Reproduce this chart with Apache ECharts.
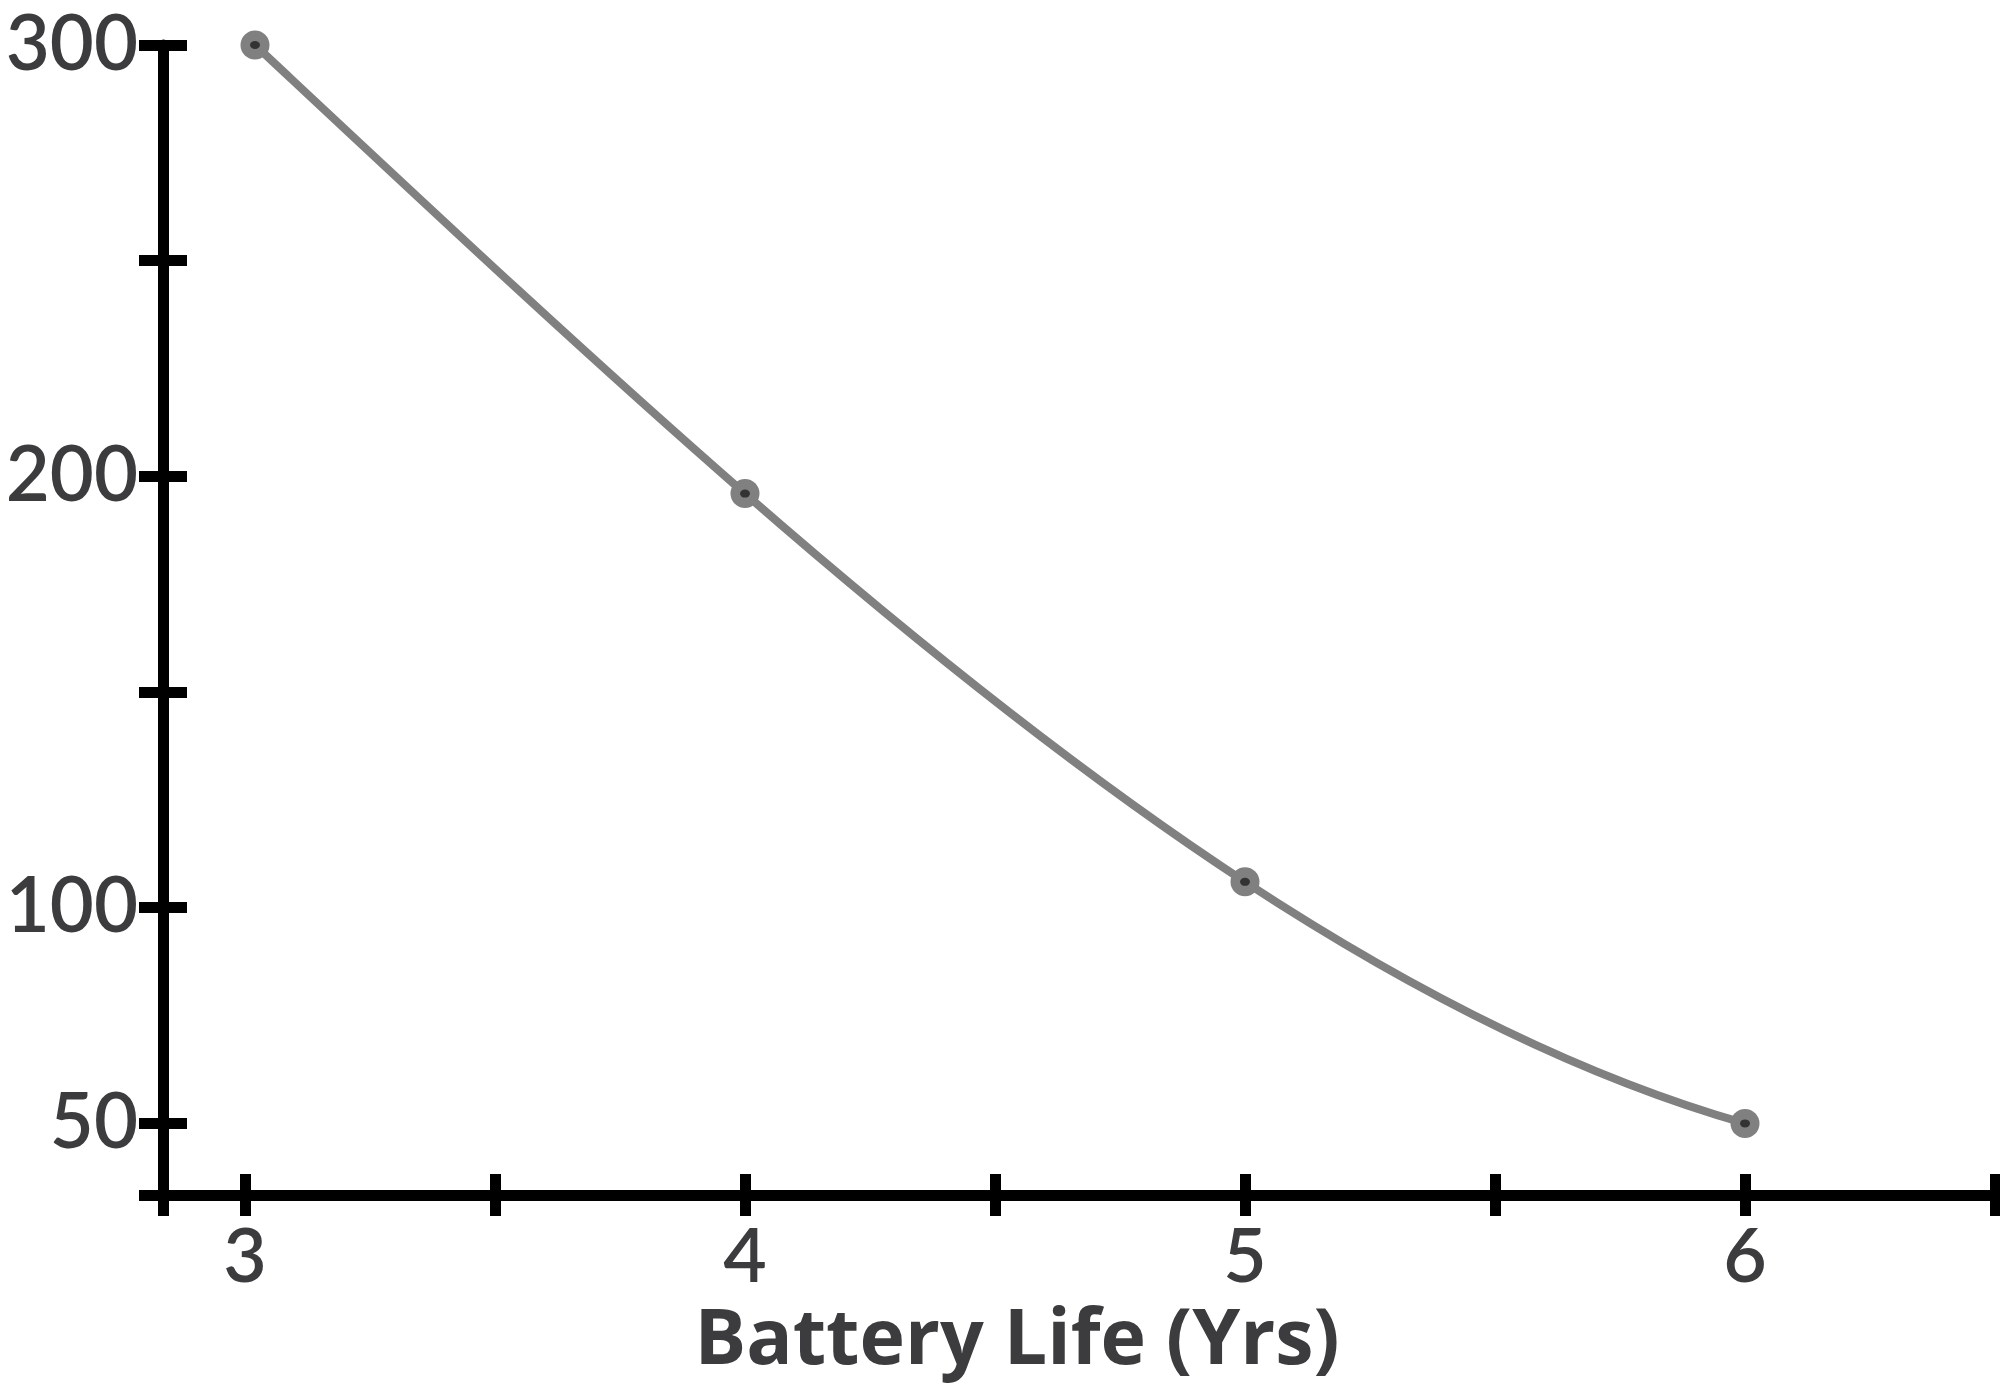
<!DOCTYPE html>
<html>
<head>
<meta charset="utf-8">
<script src="https://cdn.jsdelivr.net/npm/echarts@6/dist/echarts.min.js"></script>
<style>
html,body{margin:0;padding:0;background:#fff;}
#chart{width:2000px;height:1394px;}
</style>
</head>
<body>
<div id="chart"></div>
<script>
// ---- data ----
const batteryLife = [3.02, 4, 5, 6];
const values = [300, 196, 106, 50];
const xMin = 2.836, xMax = 6.5;
const yMin = 33.4, yMax = 300;
const xTickValues = [2.836, 3, 3.5, 4, 4.5, 5, 5.5, 6, 6.5];
const xLabelValues = [3, 4, 5, 6];
const yTickValues = [33.4, 50, 100, 150, 200, 250, 300];
const yLabelValues = [50, 100, 200, 300];
const xTitle = 'Battery Life (Yrs)';

const LABEL_FONT = 'Lato';
const TITLE_FONT = 'Open Sans';
const TXT = '#3c3c3e';
const AX = '#000';
const LINE = '#808080';

const grid = {left: 163, top: 45, width: 1832, height: 1150};

// Slopes of a cubic spline with not-a-knot ends (for 4 points: the interpolating cubic),
// evaluated in pixel space at each node.
function splineSlopes(pts) {
  const n = pts.length;
  const xs = pts.map(p => p[0]);
  const dd = pts.map(p => p[1]);
  const coef = [dd[0]];
  const table = dd.slice();
  for (let k = 1; k < n; k++) {
    for (let i = n - 1; i >= k; i--) table[i] = (table[i] - table[i - 1]) / (xs[i] - xs[i - k]);
    coef.push(table[k]);
  }
  return xs.map(x => {
    // derivative of Newton form
    let d = 0;
    for (let k = 1; k < n; k++) {
      let sum = 0;
      for (let j = 0; j < k; j++) {
        let prod = 1;
        for (let m = 0; m < k; m++) if (m !== j) prod *= (x - xs[m]);
        sum += prod;
      }
      d += coef[k] * sum;
    }
    return d;
  });
}

const seriesData = batteryLife.map((x, i) => [x, values[i]]);

const chart = echarts.init(document.getElementById('chart'), null, {renderer: 'canvas'});
chart.setOption({
  animation: false,
  backgroundColor: '#fff',
  grid: [Object.assign({}, grid), Object.assign({}, grid)],
  xAxis: [{
    type: 'value', gridIndex: 0, min: xMin, max: xMax, position: 'bottom',
    splitLine: {show: false},
    axisLine: {show: true, onZero: false, lineStyle: {color: AX, width: 11}},
    axisTick: {show: true, inside: false, length: 21, customValues: xTickValues, lineStyle: {color: AX, width: 11}},
    axisLabel: {show: true, customValues: xLabelValues, margin: 25, color: TXT, fontFamily: LABEL_FONT, fontWeight: 600, fontSize: 75, formatter: v => String(v)},
    name: xTitle, nameLocation: 'middle', nameGap: 109,
    nameTextStyle: {color: TXT, fontFamily: TITLE_FONT, fontWeight: 'bold', fontSize: 77, padding: [0, 124, 0, 0]}
  }, {
    type: 'value', gridIndex: 1, min: xMin, max: xMax, position: 'bottom',
    splitLine: {show: false},
    axisLine: {show: false, onZero: false},
    axisTick: {show: true, inside: true, length: 21, customValues: xTickValues, lineStyle: {color: AX, width: 11}},
    axisLabel: {show: false}
  }],
  yAxis: [{
    type: 'value', gridIndex: 0, min: yMin, max: yMax, position: 'left',
    splitLine: {show: false},
    axisLine: {show: true, onZero: false, lineStyle: {color: AX, width: 11}},
    axisTick: {show: true, inside: false, length: 24, customValues: yTickValues, lineStyle: {color: AX, width: 11}},
    axisLabel: {show: true, customValues: yLabelValues, margin: 25, color: TXT, fontFamily: LABEL_FONT, fontWeight: 600, fontSize: 76, formatter: v => String(v)}
  }, {
    type: 'value', gridIndex: 1, min: yMin, max: yMax, position: 'left',
    splitLine: {show: false},
    axisLine: {show: false, onZero: false},
    axisTick: {show: true, inside: true, length: 24, customValues: yTickValues, lineStyle: {color: AX, width: 11}},
    axisLabel: {show: false}
  }],
  series: [{
    type: 'custom',
    xAxisIndex: 0, yAxisIndex: 0,
    data: seriesData,
    encode: {x: 0, y: 1},
    z: 1,
    renderItem: function (params, api) {
      const n = seriesData.length;
      const i = params.dataIndex;
      if (i >= n - 1) return null;
      const pts = seriesData.map(d => api.coord(d));
      const slopes = splineSlopes(pts);
      const a = pts[i], b = pts[i + 1];
      const h = b[0] - a[0];
      const shape = {
        x1: a[0], y1: a[1],
        cpx1: a[0] + h / 3, cpy1: a[1] + slopes[i] * h / 3,
        cpx2: b[0] - h / 3, cpy2: b[1] - slopes[i + 1] * h / 3,
        x2: b[0], y2: b[1]
      };
      return {type: 'bezierCurve', shape: shape, style: {stroke: LINE, lineWidth: 8, fill: 'none', lineCap: 'round'}};
    }
  }, {
    type: 'scatter',
    xAxisIndex: 0, yAxisIndex: 0,
    data: seriesData,
    symbol: 'circle', symbolSize: 29,
    itemStyle: {color: LINE, opacity: 1},
    z: 2
  }, {
    type: 'scatter',
    xAxisIndex: 0, yAxisIndex: 0,
    data: seriesData,
    symbol: 'circle', symbolSize: [10, 8],
    itemStyle: {color: '#333', opacity: 1},
    z: 3
  }]
});
</script>
</body>
</html>
